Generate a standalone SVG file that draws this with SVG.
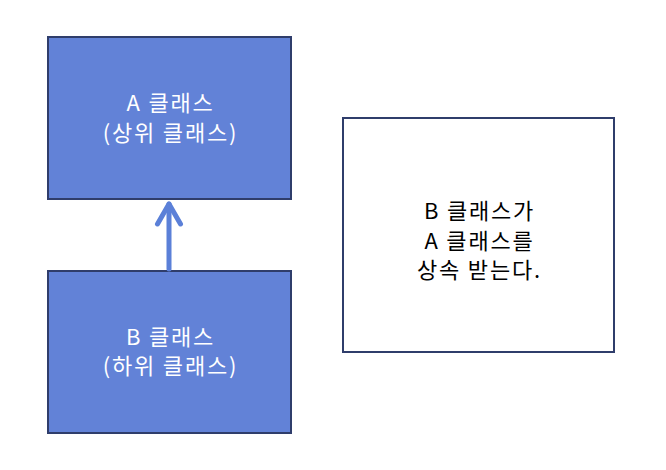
<svg xmlns="http://www.w3.org/2000/svg" width="666" height="470" viewBox="0 0 666 470">
<style>
.box{fill:#6282d7;stroke:#2f3d6b;stroke-width:2}
.wbox{fill:#ffffff;stroke:#2f3d6b;stroke-width:2}
.t{font-family:"Noto Sans CJK KR","Liberation Sans",sans-serif;font-size:22px;letter-spacing:1.8px;text-anchor:middle}
.w{fill:#ffffff}
.k{fill:#000000}
.conn{fill:none;stroke:#5b80d8;stroke-width:5;stroke-linecap:round;stroke-linejoin:round}
</style>
<rect width="666" height="470" fill="#ffffff"/>
<g id="classA">
<rect class="box" x="48" y="37" width="243" height="162"/>
<text class="t w" x="170.5" y="111">A 클래스</text>
<text class="t w" x="170.5" y="141">(상위 클래스)</text>
</g>
<g id="classB">
<rect class="box" x="48" y="271" width="243" height="162"/>
<text class="t w" x="170.5" y="345">B 클래스</text>
<text class="t w" x="170.5" y="374">(하위 클래스)</text>
</g>
<g id="note">
<rect class="wbox" x="343" y="118" width="271" height="234"/>
<text class="t k" x="479.5" y="219">B 클래스가</text>
<text class="t k" x="479.5" y="249">A 클래스를</text>
<text class="t k" x="479.5" y="278">상속 받는다.</text>
</g>
<g id="connectors">
<path class="conn" d="M169 269 V204"/>
<path class="conn" d="M157.5 224 L169 204 L180.5 224"/>
</g>
</svg>
